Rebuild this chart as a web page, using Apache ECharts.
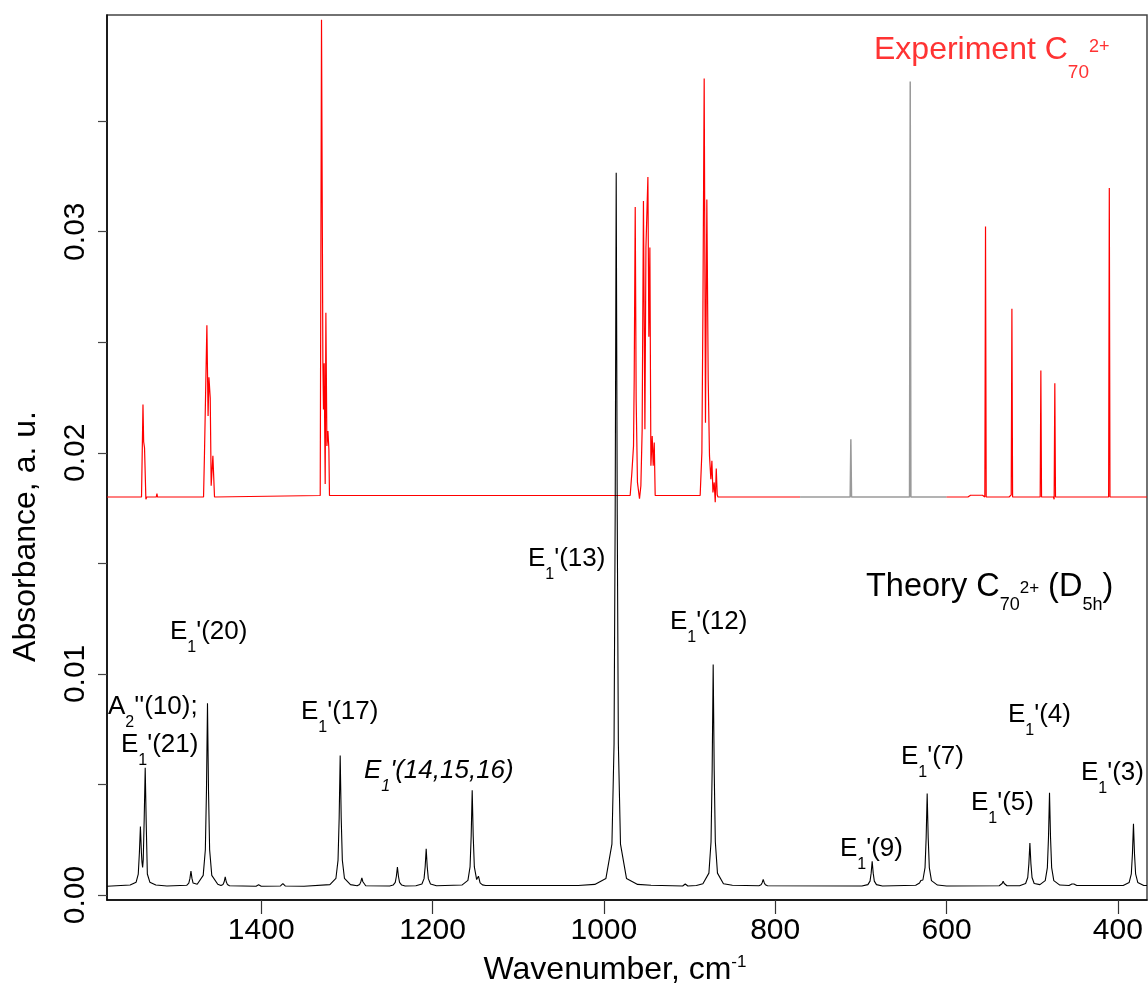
<!DOCTYPE html>
<html><head><meta charset="utf-8">
<script src="https://cdn.jsdelivr.net/npm/echarts@6/dist/echarts.min.js"></script>
<style>html,body{margin:0;padding:0;background:#fff}#c{width:1148px;height:991px}</style>
</head><body><div id="c"></div>
<script>
// ---- Theory spectrum (black) ----
const theoryX = [366,369.8,376.8,379.3,380.6,381.8,383.0,384.3,386.8,393.8,
448,451.3,452.5,453.7,457,
467.8,474.8,477.3,478.6,479.8,481.0,482.3,484.8,491,
497.7,500.2,501.5,502.7,503.9,505.2,507.7,514.7,
529.5,532.7,533.9,535.1,538.5,600,
610.6,617.6,620.1,621.4,622.6,623.8,625.1,627.6,630,631.5,636,
674.8,681.8,684.3,685.6,686.8,688.0,689.3,691.8,698.8,
809,811.5,812.8,814,815.2,816.5,819,
850,860.4,867.4,869.9,871.2,872.4,873.6,874.9,877.4,884.4,892,
902,903.8,905,906.2,908,
945,960.6,973.6,980.6,983.1,984.4,985.6,986.8,988.1,990.6,997.6,1010.6,1030,
1138,1141.7,1144.5,1146.4,1148.5,1151.2,1152.5,1153.7,1154.9,1156.2,1158.7,1165.7,
1195.4,1202.4,1204.9,1206.2,1207.4,1208.6,1209.9,1212.4,1219.4,
1232,1236,1238.5,1239.8,1241,1242.2,1243.5,1246,1250,
1278,1280,1281.3,1282.5,1283.7,1285,1288,
1295.8,1302.8,1305.3,1306.6,1307.8,1309.0,1310.3,1312.8,1319.8,1350,
1372,1373.5,1374.7,1375.9,1377.5,1400,1403,1406,
1437,1439.5,1440.8,1442,1443.2,1444.5,1447,
1450.7,1457.7,1460.2,1461.5,1462.7,1463.9,1465.2,1467.7,1474.7,
1477,1479.5,1480.8,1482,1483.2,1484.5,1487,
1510,1523,1530,1532.9,1534.2,1535.4,1536.6,1537.7,1538.4,1539.2,1539.8,1541,1542.2,1543.5,1546,1553,1580];
const theoryY = [.00043,.00043,.00057,.00096,.00187,.00322,.00187,.00096,.00057,.00043,
.00043,.0005,.00058,.0005,.00043,
.00045,.00065,.00124,.00259,.00462,.00259,.00124,.00065,.00047,
.00052,.00079,.00141,.00235,.00141,.00079,.00052,.00042,
.00042,.00052,.00063,.00052,.00042,.00041,
.00045,.00065,.00124,.00258,.00459,.00258,.00124,.00068,.00066,.00054,.00044,
.00041,.00047,.00063,.00099,.00153,.00099,.00063,.00047,.00041,
.00042,.00046,.00056,.0007,.00056,.00046,.00042,
.00044,.00051,.00099,.00241,.00562,.01043,.00562,.00241,.00099,.00051,.00043,
.00041,.00045,.0005,.00045,.00041,
.00044,.00048,.00075,.0023,.00685,.01718,.03266,.01718,.00685,.0023,.00075,.00048,.00043,
.00043,.00046,.00055,.00085,.0007,.00127,.00266,.00474,.00266,.00127,.00066,.00045,
.00042,.0005,.00074,.00128,.00209,.00128,.00074,.0005,.00042,
.00041,.00045,.00057,.00085,.00127,.00085,.00057,.00045,.00041,
.00042,.00048,.0006,.00078,.0006,.00048,.00042,
.00047,.00075,.00158,.00347,.00631,.00347,.00158,.00075,.00047,.0004,
.00041,.00046,.00052,.00046,.00041,.0004,.00046,.0004,
.00042,.00048,.0006,.00082,.0006,.00048,.00043,
.00049,.00089,.00205,.0047,.00867,.0047,.00205,.00089,.00049,
.00044,.00054,.00075,.00108,.00075,.00054,.00044,
.00041,.00045,.00058,.00095,.0032,.00576,.0034,.0016,.00125,.0015,.0019,.0031,.0019,.00095,.00058,.00045,.0004];

// ---- Experiment spectrum: low wavenumber red part ----
const expLowX = [366,409.2,410,410.8,472.8,473.6,474.4,475.2,489.1,489.9,490.7,522.9,523.7,524.5,526,527,553.7,554.5,555.3,558,572,575,600];
const expLowY = [.018,.018,.03198,.018,.018,.02315,.0179,.018,.018,.02372,.018,.018,.02651,.0181,.0181,.018,.018,.03023,.018,.01808,.01808,.018,.018];
// ---- Experiment spectrum: grey part ----
const expGrayX = [600,641.6,642.4,643.2,710.9,711.7,712.5,771];
const expGrayY = [.018,.018,.03679,.018,.018,.02061,.018,.018];
// ---- Experiment spectrum: high wavenumber red part ----
const expHighX = [771,866.8,867.7,868.8,870,871.2,872.7,873.9,875.1,876.7,878.2,879.8,881.4,882.9,884.4,885.6,887.6,
940.1,941.2,942.4,943.6,945.1,946.3,947.5,948.6,950.9,952.1,953.8,955.3,956.8,958.4,960.8,962.3,963.4,964.6,965.4,967.3,969.3,
1320.3,1320.8,1321,1322.1,1323.3,1324.5,1325.3,1326.5,1327.3,1328,1329.6,1331.1,
1454.5,1456.4,1458.4,1459.5,1461,1462,1463.4,1466.2,1467.3,
1521,1521.7,1522.5,1533.5,1534.6,1536.2,1537.2,1538,1539.7,1580];
const expHighY = [.018,.018,.0181,.01929,.01776,.01866,.01821,.01964,.01881,.01986,.0233,.03146,.02136,.03693,.0263,.02001,.01807,
.01807,.02046,.01941,.02076,.01941,.02929,.02525,.03247,.02929,.02106,.03139,.02106,.01851,.01792,.01866,.02241,.03112,.0233,.02031,.01911,.01807,
.01807,.01799,.02017,.02098,.02031,.02633,.01859,.02405,.02196,.02405,.03959,.01807,
.018,.01986,.01851,.02248,.02342,.02166,.02577,.01998,.018,
.018,.01815,.018,.018,.0179,.02023,.0205,.02218,.018,.018];

const xTicks = [400,600,800,1000,1200,1400];
const yTicks = [0,0.005,0.01,0.015,0.02,0.025,0.03,0.035];
const yLabels = [0,0.01,0.02,0.03];

const FONT = "'Liberation Sans', Arial, sans-serif";
const zip = (xs, ys) => xs.map((x, i) => [x, ys[i]]);

const annRich = {
  m: {fontSize: 26, lineHeight: 32, verticalAlign: 'top', fontFamily: FONT, fill: '#000'},
  s: {fontSize: 16, lineHeight: 16, verticalAlign: 'top', padding: [21, 0, 0, 0], fontFamily: FONT, fill: '#000'},
  mi: {fontSize: 26, lineHeight: 32, verticalAlign: 'top', fontFamily: FONT, fontStyle: 'italic', fill: '#000'},
  si: {fontSize: 16, lineHeight: 16, verticalAlign: 'top', padding: [21, 0, 0, 0], fontFamily: FONT, fontStyle: 'italic', fill: '#000'}
};
function ann(text, left, top) {
  return {type: 'text', left: left, top: top, z: 10, style: {text: text, rich: annRich, fontFamily: FONT}};
}
const annotations = [
  ann("{m|A}{s|2}{m|''(10);}", 108, 694),
  ann("{m|E}{s|1}{m|'(21)}", 121, 732),
  ann("{m|E}{s|1}{m|'(20)}", 170, 619),
  ann("{m|E}{s|1}{m|'(17)}", 301, 699),
  ann("{mi|E}{si|1}{mi|'(14,15,16)}", 364, 758),
  ann("{m|E}{s|1}{m|'(13)}", 528, 546),
  ann("{m|E}{s|1}{m|'(12)}", 670, 609),
  ann("{m|E}{s|1}{m|'(9)}", 840, 836),
  ann("{m|E}{s|1}{m|'(7)}", 901, 744),
  ann("{m|E}{s|1}{m|'(5)}", 971, 790),
  ann("{m|E}{s|1}{m|'(4)}", 1008, 702),
  ann("{m|E}{s|1}{m|'(3)}", 1081, 760),
  {type: 'text', left: 866, top: 571, z: 10, style: {
    text: '{M|Theory C}{S|70}{P|2+}{M| (D}{S|5h}{M|)}',
    rich: {
      M: {fontSize: 32.5, lineHeight: 40, verticalAlign: 'top', fontFamily: FONT, fill: '#000'},
      S: {fontSize: 18, lineHeight: 18, verticalAlign: 'top', padding: [25.5, 0, 0, 0], fontFamily: FONT, fill: '#000'},
      P: {fontSize: 17, lineHeight: 17, verticalAlign: 'top', padding: [8.5, 0, 0, 0], fontFamily: FONT, fill: '#000'}
    }}},
  {type: 'text', left: 874, top: 34, z: 10, style: {
    text: '{M|Experiment C}{S|70}{P|2+}',
    rich: {
      M: {fontSize: 32, lineHeight: 40, verticalAlign: 'top', fontFamily: FONT, fill: '#ff3333'},
      S: {fontSize: 19, lineHeight: 20, verticalAlign: 'top', padding: [29.5, 0, 0, 0], fontFamily: FONT, fill: '#ff3333'},
      P: {fontSize: 18, lineHeight: 18, verticalAlign: 'top', padding: [4, 0, 0, 0], fontFamily: FONT, fill: '#ff3333'}
    }}}
];

const chart = echarts.init(document.getElementById('c'), null, {renderer: 'canvas'});
chart.setOption({
  animation: false,
  backgroundColor: '#fff',
  grid: {left: 107, right: 1, top: 15, bottom: 84, show: true, borderColor: '#444', borderWidth: 1.5, containLabel: false},
  xAxis: {
    type: 'value', inverse: true, min: 366, max: 1580,
    name: '{a|Wavenumber, cm}{b|-1}', nameLocation: 'middle', nameGap: 54,
    nameTextStyle: {padding: [0, 24, 0, 0], rich: {
      a: {fontSize: 32, lineHeight: 44, verticalAlign: 'top', fontFamily: FONT, color: '#000'},
      b: {fontSize: 17, lineHeight: 17, verticalAlign: 'top', padding: [0, 0, 0, 0], fontFamily: FONT, color: '#000'}
    }},
    axisLine: {onZero: false, lineStyle: {color: '#000', width: 1.5}},
    axisTick: {customValues: xTicks, length: 14, lineStyle: {color: '#333', width: 1.2}},
    axisLabel: {customValues: xTicks, fontSize: 30, fontFamily: FONT, color: '#000', margin: 16,
      formatter: v => String(v)},
    splitLine: {show: false}
  },
  yAxis: {
    type: 'value', min: -0.000225, max: 0.0398,
    name: 'Absorbance, a. u.', nameLocation: 'middle', nameGap: 65, nameRotate: 90,
    nameTextStyle: {fontSize: 32, fontFamily: FONT, color: '#000', padding: [0, 158, 0, 0]},
    axisLine: {show: true, onZero: false, lineStyle: {color: '#000', width: 1.5}},
    axisTick: {show: true, customValues: yTicks, length: 9, lineStyle: {color: '#444', width: 1.2}},
    axisLabel: {customValues: yLabels, rotate: 90, fontSize: 30, fontFamily: FONT, color: '#000', margin: 16,
      formatter: v => v.toFixed(2)},
    splitLine: {show: false}
  },
  series: [
    {type: 'line', name: 'Experiment high', data: zip(expHighX, expHighY), showSymbol: false, symbol: 'none',
      lineStyle: {color: '#ff0000', width: 1.2}, z: 2},
    {type: 'line', name: 'Experiment grey', data: zip(expGrayX, expGrayY), showSymbol: false, symbol: 'none',
      lineStyle: {color: '#9a9a9a', width: 1.5}, z: 2},
    {type: 'line', name: 'Experiment low', data: zip(expLowX, expLowY), showSymbol: false, symbol: 'none',
      lineStyle: {color: '#ff0000', width: 1.2}, z: 2},
    {type: 'line', name: 'Theory', data: zip(theoryX, theoryY), showSymbol: false, symbol: 'none',
      lineStyle: {color: '#000', width: 1.1}, z: 3}
  ],
  graphic: annotations
});
</script>
</body></html>
